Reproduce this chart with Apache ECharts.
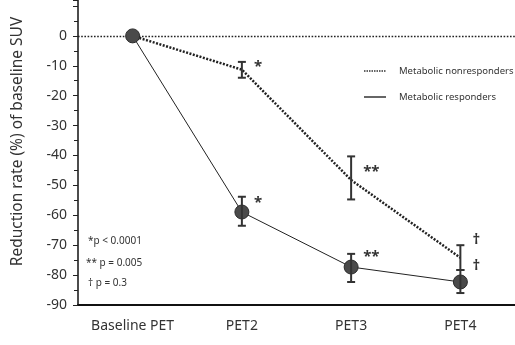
<!DOCTYPE html>
<html><head><meta charset="utf-8">
<script src="https://cdn.jsdelivr.net/npm/echarts@6/dist/echarts.min.js"></script>
<style>html,body{margin:0;padding:0;background:#fff}#c{width:515px;height:345px}</style>
</head><body><div id="c"></div>
<script>
var categories = ['Baseline PET', 'PET2', 'PET3', 'PET4'];
var nonrespMean = [0, -11.3, -48.2, -74.2];
var nonrespLow  = [null, -14.0, -54.7, -78.3];
var nonrespHigh = [null, -8.7, -40.3, -70.0];
var respMean = [0, -58.9, -77.3, -82.3];
var respLow  = [null, -63.5, -82.3, -86.0];
var respHigh = [null, -53.8, -72.9, -78.3];
var nonrespSig = ['', '*', '**', '†'];
var nonrespSigY = [null, -10.3, -45.3, -68.3];
var respSig = ['', '*', '**', '†'];
var respSigY = [null, -55.8, -73.8, -77.0];
var yTicks = [0, -10, -20, -30, -40, -50, -60, -70, -80, -90];
var refLineValue = [0];
var pNotes = ['*p < 0.0001', '** p = 0.005', '† p = 0.3'];
var legendNames = ['Metabolic nonresponders', 'Metabolic responders'];

var FONT = 'Noto Sans';
var chart = echarts.init(document.getElementById('c'));

function errSeries(low, high, sig, sigY) {
  return {
    type: 'custom', z: 5,
    data: categories.map(function (c, i) { return [i, low[i], high[i], sigY[i]]; }),
    renderItem: function (params, api) {
      var i = api.value(0);
      if (low[i] == null) return null;
      var lo = api.coord([i, api.value(1)]);
      var hi = api.coord([i, api.value(2)]);
      var sp = api.coord([i, api.value(3)]);
      var w = 4;
      var st = { stroke: '#333', lineWidth: 2 };
      return { type: 'group', children: [
        { type: 'line', shape: { x1: lo[0], y1: lo[1], x2: hi[0], y2: hi[1] }, style: st },
        { type: 'line', shape: { x1: lo[0] - w, y1: lo[1], x2: lo[0] + w, y2: lo[1] }, style: st },
        { type: 'line', shape: { x1: hi[0] - w, y1: hi[1], x2: hi[0] + w, y2: hi[1] }, style: st },
        { type: 'text', style: { text: sig[i], x: sp[0] + 12, y: sp[1], fill: '#333',
          font: 'bold 15px ' + FONT, textVerticalAlign: 'middle' } }
      ]};
    }
  };
}

chart.setOption({
  animation: false,
  grid: { left: 78, right: 0, top: 0, bottom: 40 },
  xAxis: {
    type: 'category', data: categories, boundaryGap: true,
    axisLine: { onZero: false, lineStyle: { color: '#111', width: 2 } },
    axisTick: { alignWithLabel: true, length: 3, lineStyle: { color: '#333' } },
    axisLabel: { color: '#333', fontSize: 14, fontFamily: FONT, margin: 14 }
  },
  yAxis: {
    type: 'value', min: -90, max: 12, interval: 10,
    name: 'Reduction rate (%) of baseline SUV', nameLocation: 'middle', nameGap: 52,
    nameTextStyle: { color: '#333', fontSize: 15.5, fontFamily: FONT, padding: [0, 0, 0, 22] },
    axisLine: { show: true, lineStyle: { color: '#111', width: 1.5 } },
    axisTick: { show: true, length: 5, lineStyle: { color: '#222' } },
    minorTick: { show: true, splitNumber: 2, length: 4, lineStyle: { color: '#222' } },
    splitLine: { show: false },
    axisLabel: { color: '#333', fontSize: 14, fontFamily: FONT, margin: 11,
      formatter: function (v) { return yTicks.indexOf(v) >= 0 ? String(v) : ''; } }
  },
  series: [
    { type: 'custom', z: 2, data: refLineValue.map(function (v) { return [0, v]; }),
      renderItem: function (params, api) {
        var cs = params.coordSys;
        var p = api.coord([0, api.value(1)]);
        var y = Math.round(p[1]) + 0.5;
        return { type: 'line', shape: { x1: cs.x, y1: y, x2: cs.x + cs.width, y2: y },
          style: { stroke: '#222', lineWidth: 1.3, lineDash: [1.6, 1.6] } };
      } },
    { type: 'line', data: nonrespMean, symbol: 'none', z: 3,
      lineStyle: { color: '#222', width: 2.5, type: [2, 1.5] } },
    { type: 'line', data: respMean, symbol: 'circle', symbolSize: 14, z: 4,
      lineStyle: { color: '#222', width: 1 },
      itemStyle: { color: '#4a4a4a', borderColor: '#2a2a2a', borderWidth: 1 } },
    errSeries(nonrespLow, nonrespHigh, nonrespSig, nonrespSigY),
    errSeries(respLow, respHigh, respSig, respSigY)
  ],
  graphic: [
    { type: 'line', shape: { x1: 364, y1: 71, x2: 386, y2: 71 }, style: { stroke: '#333', lineWidth: 1.5, lineDash: [1.5, 1] } },
    { type: 'line', shape: { x1: 364, y1: 97, x2: 386, y2: 97 }, style: { stroke: '#333', lineWidth: 1.5 } },
    { type: 'text', x: 399, y: 71, style: { text: legendNames[0], fill: '#333', font: '9.5px ' + FONT, textVerticalAlign: 'middle' } },
    { type: 'text', x: 399, y: 97, style: { text: legendNames[1], fill: '#333', font: '9.5px ' + FONT, textVerticalAlign: 'middle' } },
    { type: 'text', x: 88, y: 241, style: { text: pNotes[0], fill: '#333', font: '10px ' + FONT, textVerticalAlign: 'middle' } },
    { type: 'text', x: 86, y: 263, style: { text: pNotes[1], fill: '#333', font: '10px ' + FONT, textVerticalAlign: 'middle' } },
    { type: 'text', x: 88, y: 283, style: { text: pNotes[2], fill: '#333', font: '10px ' + FONT, textVerticalAlign: 'middle' } }
  ]
});
</script></body></html>
